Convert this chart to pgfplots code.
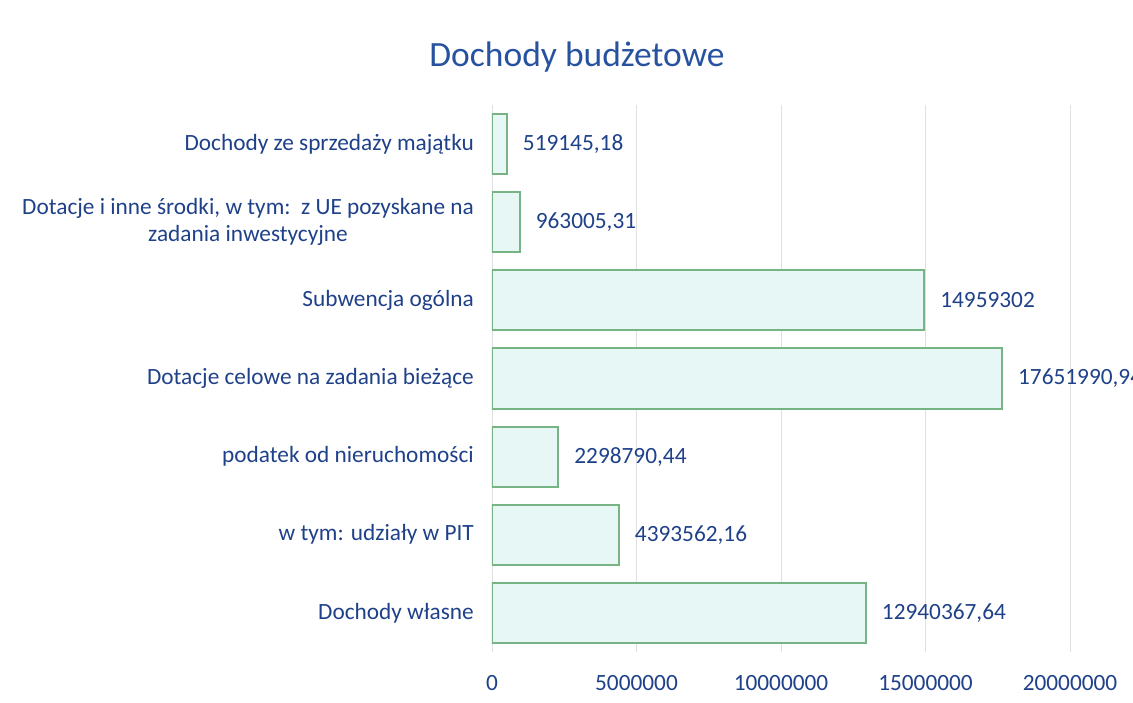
\documentclass[border=0pt]{standalone}
\usepackage{fontspec}
\setmainfont{Carlito}
\usepackage{pgfplots}
\usepackage{pgfplotstable}
\pgfplotsset{compat=1.18}
\definecolor{txt}{HTML}{1F4189}
\definecolor{ttl}{HTML}{2752A0}
\definecolor{barfill}{HTML}{E6F7F6}
\definecolor{bardraw}{HTML}{76B486}
\definecolor{gridc}{HTML}{E0E0E0}
\pgfplotstableread{
y x label
0 12940367.64 12940367,64
1 4393562.16 4393562,16
2 2298790.44 2298790,44
3 17651990.94 17651990,94
4 14959302 14959302
5 963005.31 963005,31
6 519145.18 519145,18
}\datatab
\begin{document}
\begin{tikzpicture}
\clip (-492bp,-51bp) rectangle (641bp,652bp);
\begin{axis}[
  at={(0,0)}, anchor=south west,
  scale only axis, width=578bp, height=547bp,
  xbar, bar width=0.77,
  xmin=0, xmax=20000000, ymin=-0.5, ymax=6.5,
  ytick={0,...,6},
  yticklabels={Dochody własne, w tym: udziały w PIT, podatek od nieruchomości, Dotacje celowe na zadania bieżące, Subwencja ogólna, {Dotacje i inne środki, w tym:\ \ z UE pozyskane na\\zadania inwestycyjne}, Dochody ze sprzedaży majątku},
  xtick={0,5000000,10000000,15000000,20000000},
  xticklabels={0,5000000,10000000,15000000,20000000},
  scaled x ticks=false,
  xmajorgrids, grid style={gridc, line width=0.8bp},
  axis line style={draw=none},
  major tick length=0pt,
  ticklabel style={font=\fontsize{23.3bp}{27bp}\selectfont, text=txt},
  xticklabel style={anchor=base, yshift=-38bp},
  yticklabel style={anchor=east, xshift=-18bp, inner sep=0pt, align=center},
  point meta=explicit symbolic,
  nodes near coords,
  nodes near coords style={anchor=west, inner sep=0pt, xshift=15bp, font=\fontsize{23.3bp}{27bp}\selectfont, text=txt},
  title={Dochody budżetowe},
  title style={at={(axis description cs:0.147,1.077)}, anchor=center, font=\fontsize{35.5bp}{40bp}\selectfont, text=ttl},
]
\addplot[fill=barfill, draw=bardraw, line width=2bp] table[x=x, y=y, meta=label] {\datatab};
\end{axis}
\end{tikzpicture}
\end{document}
